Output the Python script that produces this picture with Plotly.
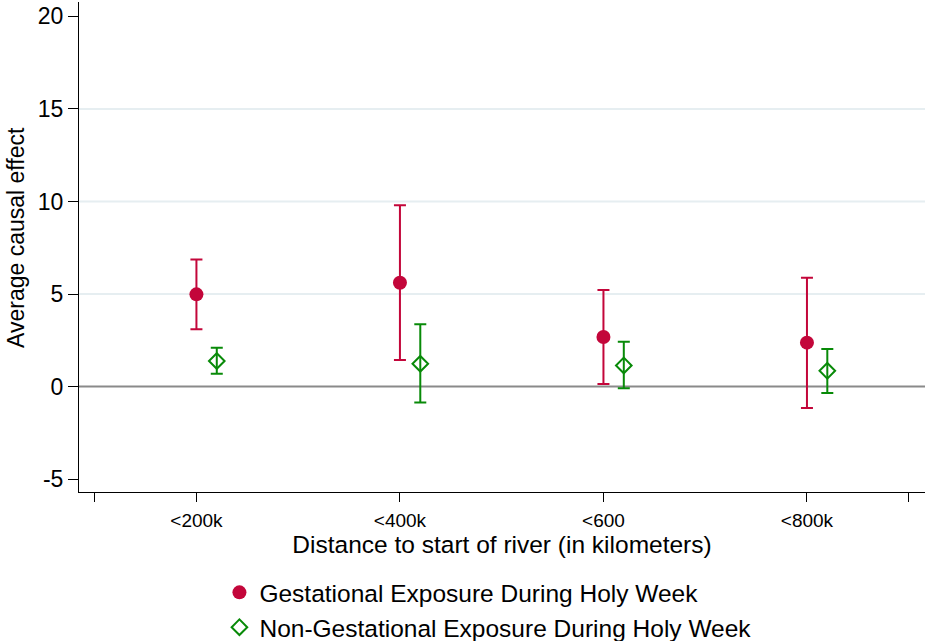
import plotly.graph_objects as go

# Distance bins and estimated average causal effects with 95% CIs
categories = ["<200k", "<400k", "<600", "<800k"]

gest_est = [4.98, 5.61, 2.68, 2.37]
gest_lo = [3.09, 1.43, 0.14, -1.16]
gest_hi = [6.87, 9.79, 5.22, 5.88]

nongest_est = [1.38, 1.23, 1.14, 0.85]
nongest_lo = [0.69, -0.87, -0.10, -0.35]
nongest_hi = [2.10, 3.36, 2.42, 2.03]

y_ticks = [-5, 0, 5, 10, 15, 20]
y_ticktext = ["-5", "0", "5", "10", "15", "20"]
grid_vals = [5, 10, 15]

RED = "#C3063A"
GREEN = "#088A08"
FONT = "Liberation Sans, Arial, sans-serif"

pos = list(range(1, len(categories) + 1))
shift = 0.1

fig = go.Figure()

fig.add_trace(go.Scatter(
    x=pos, y=gest_est, mode="markers",
    name="Gestational Exposure During Holy Week",
    marker=dict(symbol="circle", size=14, color=RED),
    error_y=dict(type="data", symmetric=False,
                 array=[h - e for h, e in zip(gest_hi, gest_est)],
                 arrayminus=[e - l for e, l in zip(gest_est, gest_lo)],
                 color=RED, thickness=2, width=6),
))

fig.add_trace(go.Scatter(
    x=[p + shift for p in pos], y=nongest_est, mode="markers",
    name="Non-Gestational Exposure During Holy Week",
    marker=dict(symbol="diamond-open", size=12, color=GREEN,
                line=dict(width=2, color=GREEN)),
    error_y=dict(type="data", symmetric=False,
                 array=[h - e for h, e in zip(nongest_hi, nongest_est)],
                 arrayminus=[e - l for e, l in zip(nongest_est, nongest_lo)],
                 color=GREEN, thickness=2, width=6),
))

# light horizontal gridlines and the reference line at zero
for g in grid_vals:
    fig.add_shape(type="line", xref="paper", x0=0, x1=1, y0=g, y1=g,
                  line=dict(color="#E6EEF1", width=2), layer="below")
fig.add_shape(type="line", xref="paper", x0=0, x1=1, y0=0, y1=0,
              line=dict(color="#8A8A8A", width=2), layer="below")

# y-axis title
fig.add_annotation(text="Average causal effect", xref="paper", yref="paper",
                   x=-79 / 846, y=(492 - 238) / 490, xanchor="left", yanchor="middle",
                   xshift=1, textangle=-90, showarrow=False,
                   font=dict(size=23, family=FONT, color="black"))

fig.update_layout(
    width=925, height=641,
    margin=dict(l=79, r=0, t=2, b=149, autoexpand=False),
    plot_bgcolor="white", paper_bgcolor="white",
    font=dict(family=FONT, color="black"),
    showlegend=True,
    legend=dict(x=0.166, y=-0.159, xanchor="left", yanchor="top",
                font=dict(size=24.5, family=FONT), bgcolor="rgba(0,0,0,0)"),
    xaxis=dict(
        range=[0.423, 4.58],
        tickvals=[0.5] + pos + [4.5],
        ticktext=[""] + categories + [""],
        ticks="outside", ticklen=9, tickcolor="black",
        ticklabelstandoff=2,
        showline=True, linecolor="black", linewidth=1,
        showgrid=False, zeroline=False, automargin=False,
        tickfont=dict(size=19),
        title=dict(text="Distance to start of river (in kilometers)",
                   font=dict(size=24.5), standoff=0),
    ),
    yaxis=dict(
        range=[-5.70, 20.78],
        tickvals=y_ticks, ticktext=y_ticktext,
        ticks="outside", ticklen=10, tickcolor="black",
        showline=True, linecolor="black", linewidth=1,
        showgrid=False, zeroline=False, automargin=False,
        tickfont=dict(size=23),
    ),
)

fig.write_html("out.html")
